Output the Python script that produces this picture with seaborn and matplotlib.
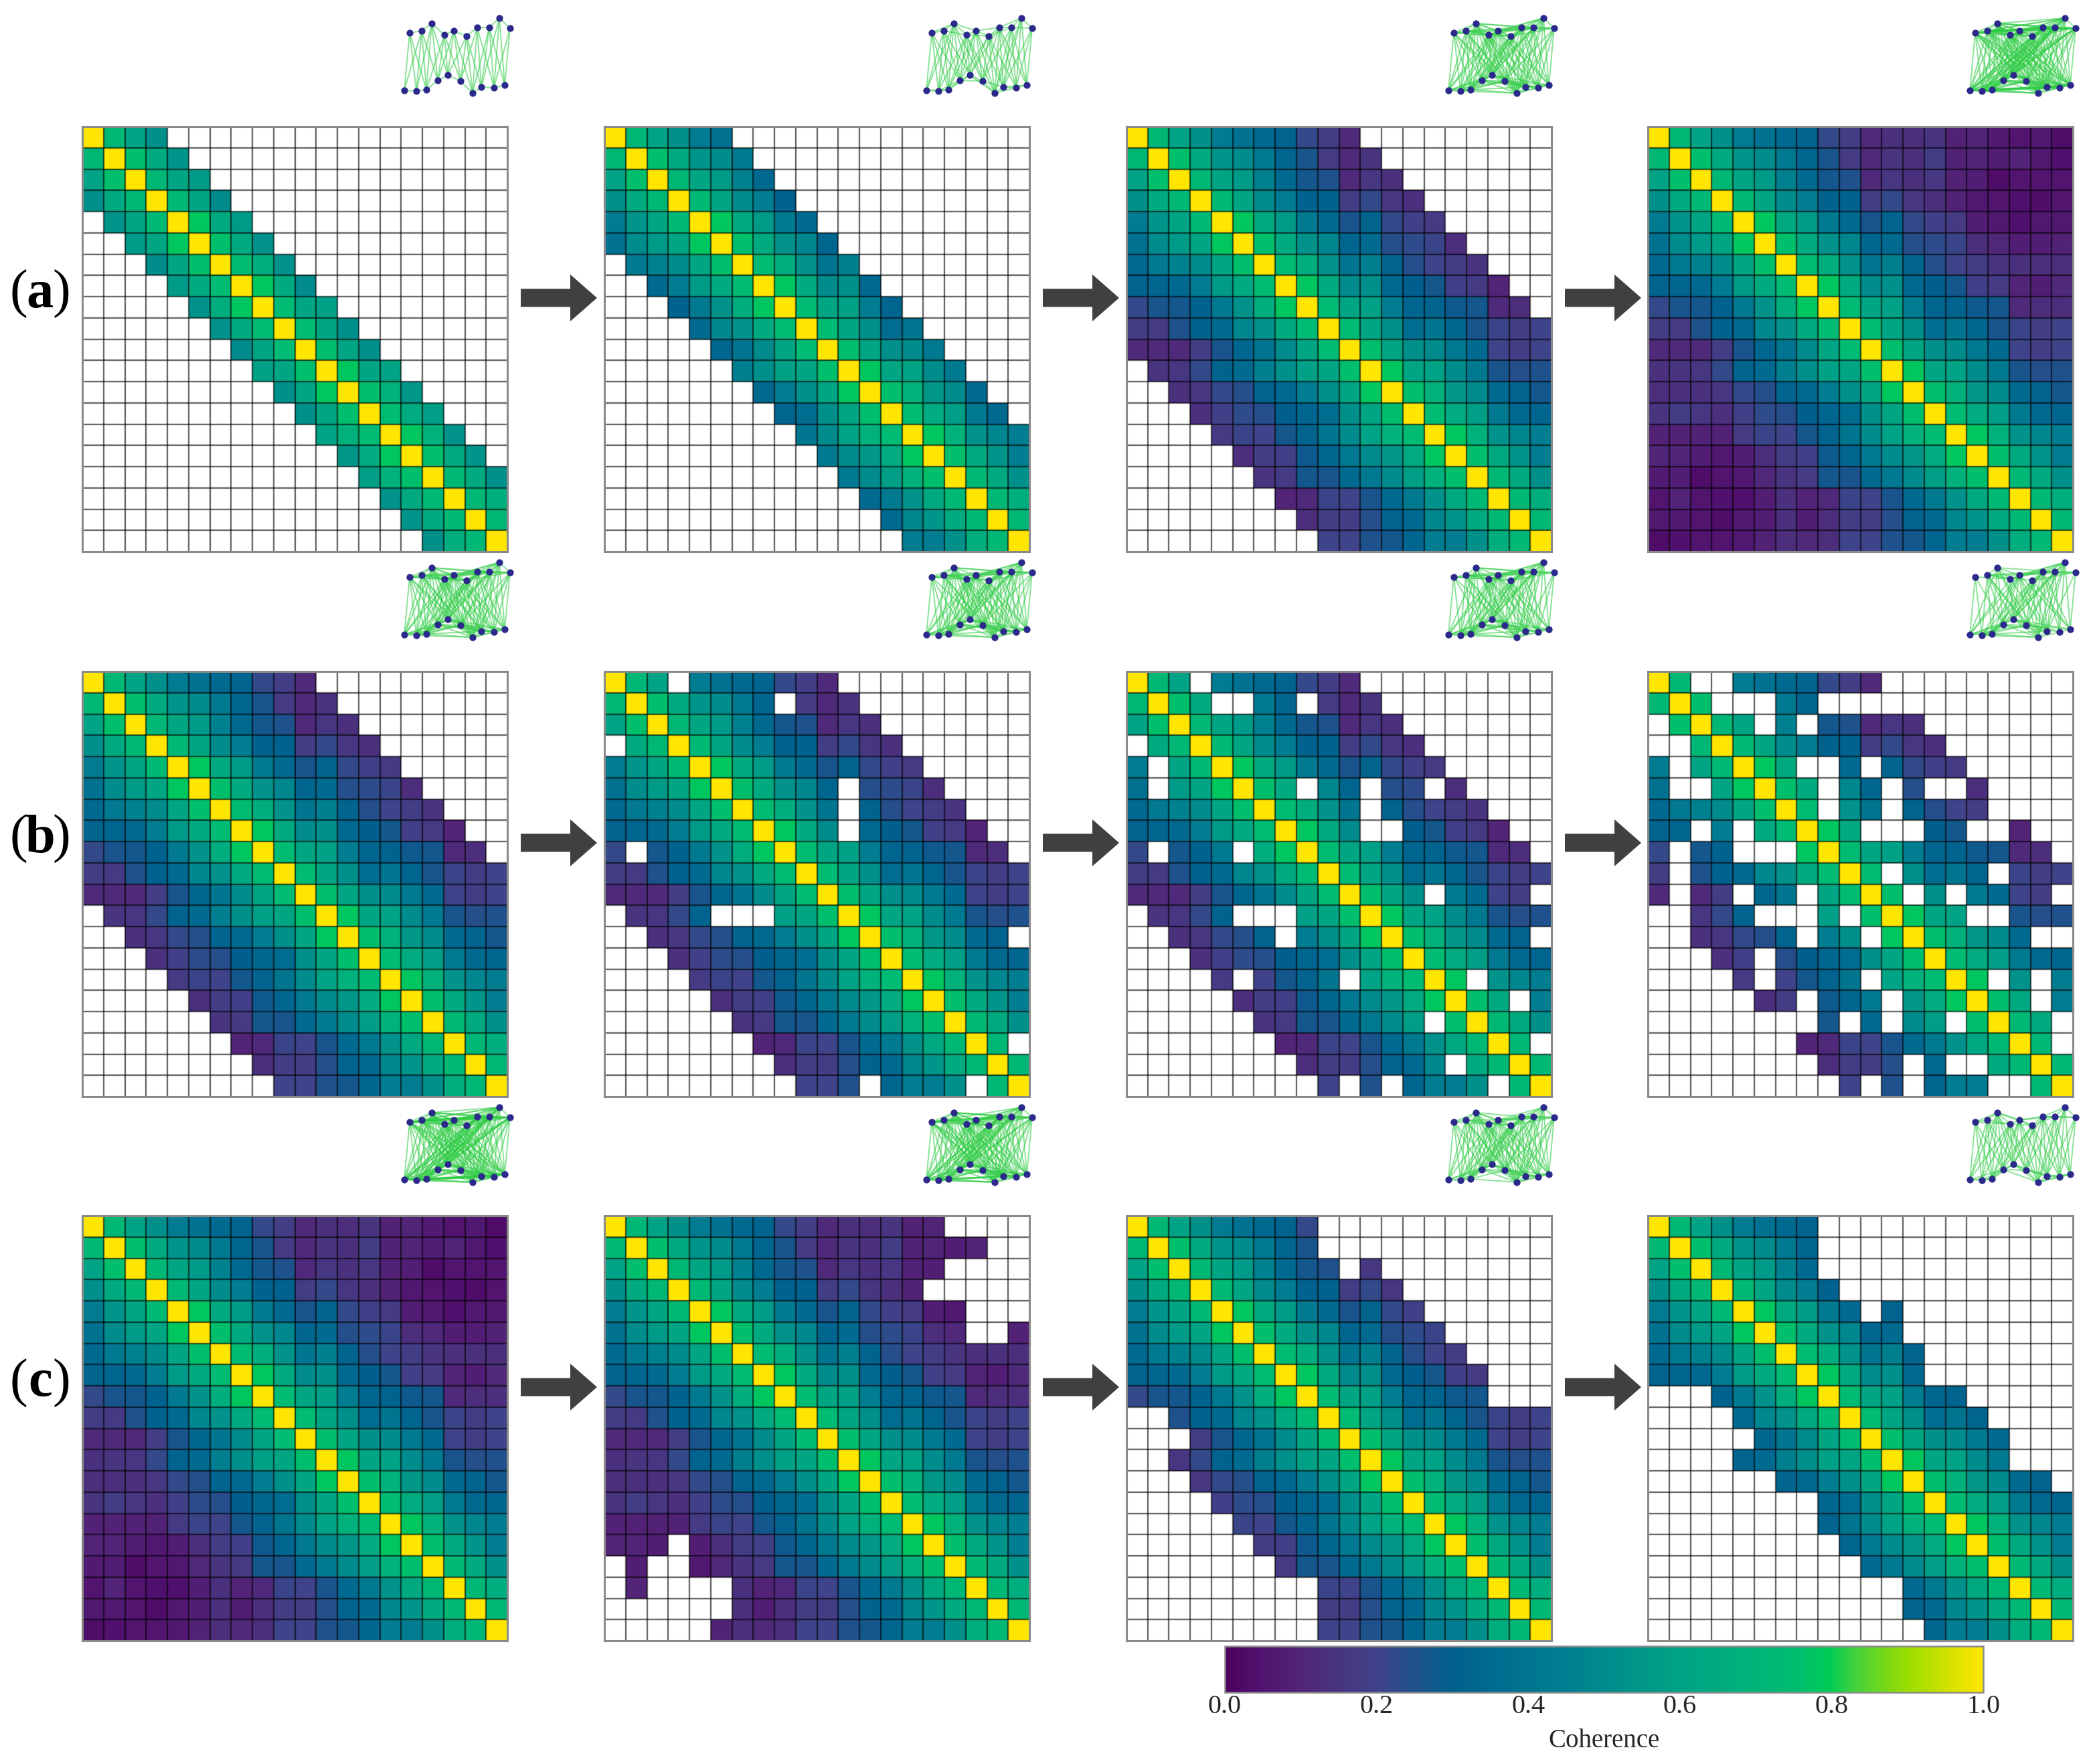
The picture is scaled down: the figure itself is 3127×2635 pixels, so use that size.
import numpy as np
import pandas as pd
import seaborn as sns
import matplotlib.pyplot as plt
from matplotlib.colors import LinearSegmentedColormap
from matplotlib.cm import ScalarMappable
from matplotlib.patches import FancyArrow

# coherence values x100
coherence = [
    [100, 72, 60, 52, 43, 38, 34, 32, 22, 18, 12, 14, 13, 15, 9, 10, 7, 5, 6, 3],
    [72, 100, 76, 64, 54, 50, 42, 33, 26, 17, 12, 15, 14, 18, 9, 10, 8, 10, 6, 4],
    [60, 76, 100, 72, 62, 56, 46, 34, 27, 25, 12, 16, 14, 16, 9, 8, 3, 5, 5, 5],
    [52, 64, 72, 100, 73, 62, 50, 44, 31, 31, 18, 22, 16, 14, 9, 6, 5, 4, 3, 5],
    [43, 54, 62, 73, 100, 78, 64, 56, 42, 35, 26, 32, 22, 19, 17, 8, 6, 4, 6, 6],
    [38, 50, 56, 62, 78, 100, 76, 64, 53, 48, 33, 35, 24, 23, 21, 13, 11, 8, 8, 9],
    [34, 42, 46, 50, 62, 76, 100, 74, 66, 53, 40, 45, 32, 24, 20, 18, 15, 14, 14, 13],
    [32, 33, 34, 44, 56, 64, 74, 100, 78, 64, 50, 52, 34, 30, 27, 19, 17, 10, 8, 12],
    [22, 26, 27, 31, 42, 53, 66, 78, 100, 74, 62, 59, 44, 33, 32, 28, 27, 12, 13, 13],
    [18, 17, 25, 31, 35, 48, 53, 64, 74, 100, 74, 62, 52, 36, 40, 33, 26, 21, 18, 20],
    [12, 12, 12, 18, 26, 33, 40, 50, 62, 74, 100, 76, 62, 52, 50, 42, 35, 20, 18, 20],
    [14, 15, 16, 22, 32, 35, 45, 52, 59, 62, 76, 100, 78, 62, 60, 50, 42, 26, 24, 25],
    [13, 14, 14, 16, 22, 24, 32, 34, 44, 52, 62, 78, 100, 76, 68, 55, 50, 35, 32, 27],
    [15, 18, 16, 14, 19, 23, 24, 30, 33, 36, 52, 62, 76, 100, 74, 65, 58, 42, 34, 33],
    [9, 9, 9, 9, 17, 21, 20, 27, 32, 40, 50, 60, 68, 74, 100, 78, 68, 53, 48, 44],
    [10, 10, 8, 6, 8, 13, 18, 19, 28, 33, 42, 50, 55, 65, 78, 100, 76, 63, 54, 44],
    [7, 8, 3, 5, 6, 11, 15, 17, 27, 26, 35, 42, 50, 58, 68, 76, 100, 72, 64, 52],
    [5, 10, 5, 4, 4, 8, 14, 10, 12, 21, 20, 26, 35, 42, 53, 63, 72, 100, 72, 66],
    [6, 6, 5, 3, 6, 8, 14, 8, 13, 18, 18, 24, 32, 34, 48, 54, 64, 72, 100, 72],
    [3, 4, 5, 5, 6, 9, 13, 12, 13, 20, 20, 25, 27, 33, 44, 44, 52, 66, 72, 100],
]

# which cells are kept in each panel (# = kept)
mask_a1 = ["####................", "#####...............", "######..............", "#######.............",
           ".#######............", "..#######...........", "...#######..........", "....#######.........",
           ".....#######........", "......#######.......", ".......#######......", "........#######.....",
           ".........#######....", "..........#######...", "...........#######..", "............#######.",
           ".............#######", "..............######", "...............#####", "................####"]
mask_a2 = ["######..............", "#######.............", "########............", "#########...........",
           "##########..........", "###########.........", ".###########........", "..###########.......",
           "...###########......", "....###########.....", ".....###########....", "......###########...",
           ".......###########..", "........###########.", ".........###########", "..........##########",
           "...........#########", "............########", ".............#######", "..............######"]
mask_a3 = ["###########.........", "############........", "#############.......", "##############......",
           "###############.....", "################....", "#################...", "##################..",
           "###################.", "####################", "####################", ".###################",
           "..##################", "...#################", "....################", ".....###############",
           "......##############", ".......#############", "........############", ".........###########"]
mask_a4 = ["####################"] * 20
mask_b1 = mask_a3
mask_b2 = ["###.#######.........", "########.###........", "#############.......", ".#############......",
           "###############.....", "###########.####....", "###########.#####...", "###########.######..",
           "#.#################.", "####################", "####################", ".####...############",
           "..#################.", "...#################", "....################", ".....###############",
           "......##############", ".......############.", "........############", ".........###.####.##"]
mask_b3 = ["###.#######.........", "####..##.###........", "#############.......", ".#############......",
           "#.#############.....", "#.######.##.##.#....", "###########.#####...", "###########..#####..",
           "#.###.#############.", "####################", "##############.####.", ".####...############",
           "..#####.###########.", "...#################", "....#.####.#####.###", ".....#############.#",
           "......########.#####", ".......############.", "........#######.####", ".........#.#.####.##"]
mask_b4 = ["##..#######.........", "###...##............", ".####.#.#####.......", "..############......",
           "#.#####..#.####.....", "#..#####.##.#..#....", "########.##.####....", "##.#.#####...##..#..",
           "#.##...############.", "#.#########.####.###", "#.##.##.####.#.####.", "..###...#.#####..###",
           "..#####.##.#######..", "...##.##############", "....#.####.#####.#.#", ".....##.###.######.#",
           "........#.#.##.####.", ".......############.", "........####.#..####", ".........#.#.###..##"]
mask_c1 = mask_a4
mask_c2 = ["################....", "##################..", "################....", "###############.....",
           "#################...", "#################..#", "####################", "####################",
           "####################", "####################", "####################", "####################",
           "####################", "####################", "####################", "###.################",
           ".#..################", ".#....##############", "......##############", ".....###############"]
mask_c3 = ["#########...........", "#########...........", "##########.#........", "#############.......",
           "##############......", "###############.....", "################....", "#################...",
           "#################...", "..##################", "...#################", "..##################",
           "...#################", "....################", ".....###############", "......##############",
           ".......#############", ".........###########", ".........###########", ".........###########"]
mask_c4 = ["########............", "########............", "########............", "#########...........",
           "##########.#........", "############........", "#############.......", "#############.......",
           "...############.....", "....############....", ".....############...", "....#############...",
           "......#############.", "........############", "........############", ".........###########",
           "..........##########", "............########", "............########", ".............#######"]

panels = [[mask_a1, mask_a2, mask_a3, mask_a4],
          [mask_b1, mask_b2, mask_b3, mask_b4],
          [mask_c1, mask_c2, mask_c3, mask_c4]]
row_letters = ['a', 'b', 'c']
cbar_ticks = [0.0, 0.2, 0.4, 0.6, 0.8, 1.0]

# node layout of the little networks, pixels of the first one
upper_x = [612, 630, 645, 664, 678, 697, 713, 731, 746, 762]
upper_y = [49, 46, 35, 52, 46, 54, 41, 41, 27, 42]
lower_x = [604, 622, 637, 654, 669, 688, 706, 719, 738, 754]
lower_y = [135, 136, 134, 120, 112, 121, 139, 130, 131, 127]

W, H = 3127, 2635
sns.set_theme(style='white')
plt.rcParams['font.family'] = ['Liberation Serif', 'DejaVu Serif']

colors = [(0.0, '#4d0060'), (0.05, '#511570'), (0.1, '#522578'), (0.2, '#3f4389'), (0.3, '#00608f'),
          (0.45, '#007f91'), (0.6, '#00a385'), (0.75, '#00bc72'), (0.8, '#00cc55'), (0.83, '#40d040'),
          (0.9, '#99dd00'), (1.0, '#ffe600')]
cmap = LinearSegmentedColormap.from_list('coherence', colors)

fig = plt.figure(figsize=(W / 100, H / 100), dpi=100)


def px_axes(x0, y0, x1, y1):
    return fig.add_axes([x0 / W, 1 - y1 / H, (x1 - x0) / W, (y1 - y0) / H])


# overlay in pixels for arrows and row labels
overlay = px_axes(0, 0, W, H)
overlay.set_xlim(0, W)
overlay.set_ylim(H, 0)
overlay.axis('off')

df = pd.DataFrame(coherence) / 100
node_x = [v for pair in zip(lower_x, upper_x) for v in pair]
node_y = [v for pair in zip(lower_y, upper_y) for v in pair]
panel_x = [123, 903, 1683, 2462]
panel_y = [189, 1003, 1816]
thumb_dy = [0, 813, 1627]
size = 635

for r, row in enumerate(panels):
    for c, rows in enumerate(row):
        kept = np.array([[ch == '#' for ch in s] for s in rows])
        ax = px_axes(panel_x[c], panel_y[r], panel_x[c] + size, panel_y[r] + size)
        sns.heatmap(df, mask=~kept, cmap=cmap, vmin=0, vmax=1, cbar=False, ax=ax,
                    xticklabels=False, yticklabels=False)
        ax.hlines(range(1, 20), 0, 20, color='black', alpha=0.58, lw=1.7)
        ax.vlines(range(1, 20), 0, 20, color='black', alpha=0.58, lw=1.7)
        for side in ax.spines.values():
            side.set_visible(True)
            side.set_color('#8a8a8a')
            side.set_linewidth(2.2)

        # network drawn from the same kept cells
        dx = panel_x[c] - panel_x[0]
        tx = px_axes(592 + dx, 15 + thumb_dy[r], 774 + dx, 150 + thumb_dy[r])
        tx.set_xlim(592, 774)
        tx.set_ylim(150, 15)
        tx.axis('off')
        for i in range(20):
            for j in range(i + 1, 20):
                if kept[i, j]:
                    tx.plot([node_x[i], node_x[j]], [node_y[i], node_y[j]],
                            color='#2fcc45', alpha=0.55, lw=1.4, zorder=1)
        tx.scatter(node_x, node_y, s=55, color='#2b2a8c', linewidths=0, zorder=2)

        if c < 3:
            overlay.add_patch(FancyArrow(panel_x[c] + 655, panel_y[r] + 256, 114, 0, width=27,
                                         head_width=70, head_length=40, length_includes_head=True,
                                         color='#404040', lw=0))
    # parentheses are regular weight, only the letter is bold
    y = panel_y[r] + 250
    overlay.text(28, y, '(', fontsize=58, ha='center', va='center', color='black')
    overlay.text(60, y, row_letters[r], fontsize=58, fontweight='bold', ha='center', va='center', color='black')
    overlay.text(92, y, ')', fontsize=58, ha='center', va='center', color='black')

# colorbar
cax = px_axes(1830, 2459, 2963, 2528)
sm = ScalarMappable(cmap=cmap, norm=plt.Normalize(0, 1))
cb = fig.colorbar(sm, cax=cax, orientation='horizontal', ticks=cbar_ticks)
cb.ax.tick_params(length=0, labelsize=29, pad=2)
cb.ax.set_xticklabels(['%.1f' % t for t in cbar_ticks])
cb.set_label('Coherence', fontsize=28, labelpad=10)
cb.outline.set_edgecolor('#8a8a8a')
cb.outline.set_linewidth(1.8)

overlay.set_zorder(5)
fig.savefig('out.png', dpi=100)
